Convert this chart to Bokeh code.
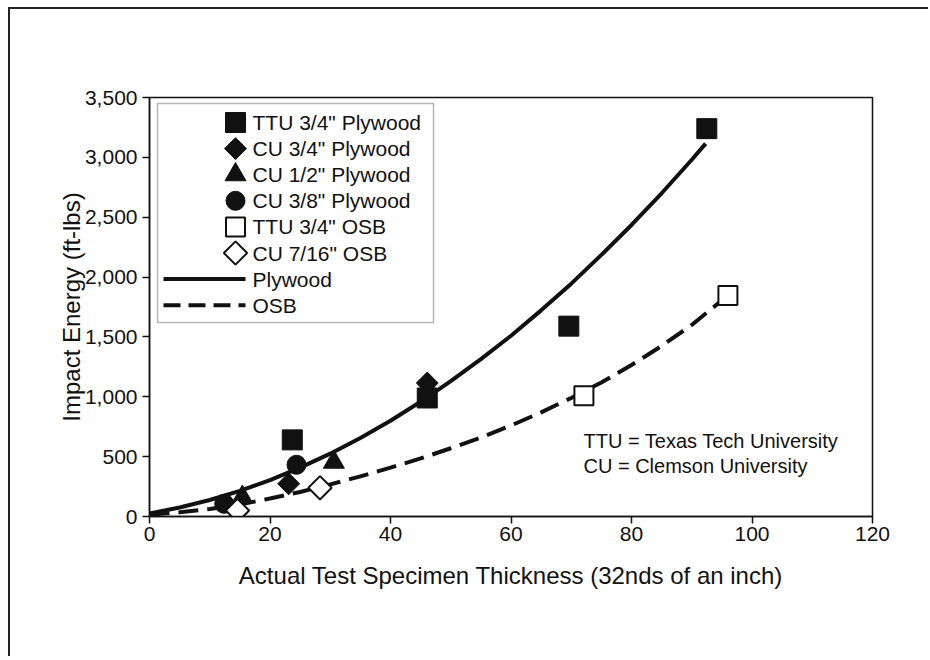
from bokeh.plotting import figure
from bokeh.models import (Range1d, BoxAnnotation, Label, FixedTicker, NumeralTickFormatter)
from bokeh.embed import file_html
from bokeh.resources import INLINE
import math

# ---- data ----
ttu_ply_x = [23.7, 46.1, 69.6, 92.5]
ttu_ply_y = [640, 990, 1590, 3240]
cu34_ply_x = [23.1, 46.1]
cu34_ply_y = [273, 1115]
cu12_ply_x = [15.4, 30.6]
cu12_ply_y = [161, 454]
cu38_ply_x = [12.4, 24.4]
cu38_ply_y = [106, 432]
ttu_osb_x = [72.1, 96.0]
ttu_osb_y = [1008, 1846]
cu716_osb_x = [14.6, 28.3]
cu716_osb_y = [50, 240]

# fitted curves as drawn in the reference
ply_curve_x = [0, 5, 10, 15, 20, 25, 30, 35, 40, 45, 50, 55, 60, 65, 70, 75, 80, 85, 90, 92.3]
ply_curve_y = [25, 75, 138, 214, 304, 408, 525, 656, 800, 958, 1130, 1315, 1510, 1722,
               1945, 2185, 2435, 2700, 2980, 3115]
osb_curve_x = [0, 5, 10, 15, 20, 25, 30, 35, 40, 45, 50, 55, 60, 65, 70, 75, 80, 85, 90, 96]
osb_curve_y = [15, 35, 62, 100, 150, 205, 268, 335, 408, 485, 570, 660, 760, 870, 990,
               1120, 1265, 1425, 1600, 1846]

x_ticks = [0, 20, 40, 60, 80, 100, 120]
y_ticks = [0, 500, 1000, 1500, 2000, 2500, 3000, 3500]

series_labels = ['TTU 3/4" Plywood', 'CU 3/4" Plywood', 'CU 1/2" Plywood', 'CU 3/8" Plywood',
                 'TTU 3/4" OSB', 'CU 7/16" OSB']
curve_labels = ['Plywood', 'OSB']
note_lines = ["TTU = Texas Tech University", "CU = Clemson University"]

FONT = "Liberation Sans"
INK = "#111111"
FRAME_W, FRAME_H = 723, 419

p = figure(frame_width=FRAME_W, frame_height=FRAME_H,
           min_border_left=139, min_border_right=56,
           min_border_top=88, min_border_bottom=140,
           x_range=Range1d(0, 120), y_range=Range1d(0, 3500),
           output_backend="svg", toolbar_location=None,
           background_fill_color="white", border_fill_color="white")
p.styles = {"margin-left": "8px", "margin-top": "7px",
            "border-left": "2px solid #222", "border-top": "2px solid #222"}
# pixel-like ranges over the frame, used only for the legend keys
p.extra_x_ranges = {"px": Range1d(0, FRAME_W)}
p.extra_y_ranges = {"px": Range1d(0, FRAME_H)}

p.grid.visible = False
p.outline_line_color = INK
p.outline_line_width = 1.5

for ax in (p.xaxis[0], p.yaxis[0]):
    ax.axis_line_color = INK
    ax.axis_line_width = 1.5
    ax.major_tick_line_color = INK
    ax.major_tick_line_width = 1.5
    ax.major_tick_out = 7
    ax.major_tick_in = 0
    ax.minor_tick_line_color = None
    ax.major_label_text_font = FONT
    ax.major_label_text_font_size = "21px"
    ax.major_label_text_color = INK
    ax.axis_label_text_font = FONT
    ax.axis_label_text_font_size = "24px"
    ax.axis_label_text_font_style = "normal"
    ax.axis_label_text_color = INK

p.xaxis[0].ticker = FixedTicker(ticks=x_ticks)
p.yaxis[0].ticker = FixedTicker(ticks=y_ticks)
p.yaxis[0].formatter = NumeralTickFormatter(format="0,0")
p.xaxis[0].axis_label = "Actual Test Specimen Thickness (32nds of an inch)"
p.yaxis[0].axis_label = "Impact Energy (ft-lbs)"
p.xaxis[0].major_label_standoff = 3
p.yaxis[0].major_label_standoff = 5
p.xaxis[0].axis_label_standoff = 18
p.yaxis[0].axis_label_standoff = -3

# marker styles
styles = [
    dict(marker="square", size=20, angle=0, fill_color=INK, line_color=INK, line_width=1),
    dict(marker="square", size=15.5, angle=math.pi / 4, fill_color=INK, line_color=INK, line_width=1),
    dict(marker="triangle", size=21, angle=0, fill_color=INK, line_color=INK, line_width=1),
    dict(marker="circle", size=19, angle=0, fill_color=INK, line_color=INK, line_width=1),
    dict(marker="square", size=19, angle=0, fill_color="white", line_color=INK, line_width=2),
    dict(marker="square", size=16.5, angle=math.pi / 4, fill_color="white", line_color=INK, line_width=2),
]
series = [(ttu_ply_x, ttu_ply_y), (cu34_ply_x, cu34_ply_y), (cu12_ply_x, cu12_ply_y),
          (cu38_ply_x, cu38_ply_y), (ttu_osb_x, ttu_osb_y), (cu716_osb_x, cu716_osb_y)]

# curves
p.line(ply_curve_x, ply_curve_y, line_color=INK, line_width=4)
p.line(osb_curve_x, osb_curve_y, line_color=INK, line_width=4, line_dash="20 9")

# data markers
for (xs, ys), st in zip(series, styles):
    p.scatter(xs, ys, **st)

# ---- legend (box, keys, labels) ----
box = BoxAnnotation(left=8, right=284, top=413, bottom=194,
                    left_units="screen", right_units="screen",
                    top_units="screen", bottom_units="screen",
                    fill_color=None, line_color=INK, line_width=1.5)
p.add_layout(box)

ROW0, ROW_STEP = 25, 26.1        # px from frame top
KEY_X, LINE_X0, LINE_X1, TEXT_X = 86, 14, 96, 103

def row_y(i):
    return FRAME_H - (ROW0 + ROW_STEP * i)

for i, st in enumerate(styles):
    p.scatter([KEY_X], [row_y(i)], x_range_name="px", y_range_name="px", **st)
p.line([LINE_X0, LINE_X1], [row_y(6)] * 2, x_range_name="px", y_range_name="px",
       line_color=INK, line_width=4)
p.line([LINE_X0, LINE_X1], [row_y(7)] * 2, x_range_name="px", y_range_name="px",
       line_color=INK, line_width=4, line_dash="17 8")

for i, t in enumerate(series_labels + curve_labels):
    p.add_layout(Label(x=TEXT_X, y=row_y(i), x_units="screen", y_units="screen",
                       text=t, text_font=FONT, text_font_size="21px",
                       text_color=INK, text_baseline="middle"))

# note text
for i, t in enumerate(note_lines):
    p.add_layout(Label(x=434, y=76 - 25 * i, x_units="screen", y_units="screen",
                       text=t, text_font=FONT, text_font_size="20px",
                       text_color=INK, text_baseline="middle"))

open("out.html", "w").write(file_html(p, INLINE))
